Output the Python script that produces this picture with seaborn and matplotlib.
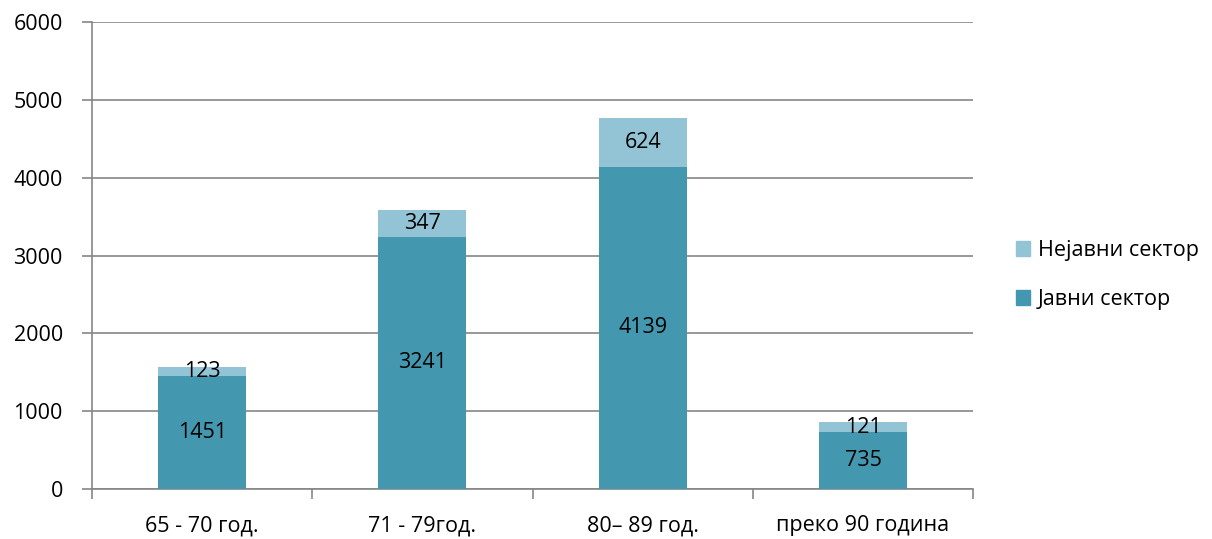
import pandas as pd
import seaborn as sns
import matplotlib.pyplot as plt
from matplotlib.patches import Patch

categories = ["65 - 70 год.", "71 - 79год.", "80– 89 год.", "преко 90 година"]
public = [1451, 3241, 4139, 735]
non_public = [123, 347, 624, 121]

dark = "#4398B0"
light = "#93C4D6"
grid_c = "#868686"

sns.set_style("white")
plt.rcParams['font.family'] = ['Open Sans', 'DejaVu Sans']
plt.rcParams['text.color'] = 'black'

df = pd.DataFrame({"cat": categories, "public": public, "non_public": non_public})
df["total"] = df["public"] + df["non_public"]

fig = plt.figure(figsize=(12.12, 5.39), dpi=100)
ax = fig.add_axes([0.0759, 0.0928, 0.727, 0.866])

# light bars = full stack height, dark bars on top cover the public part
sns.barplot(data=df, x="cat", y="total", color=light, width=0.4, saturation=1,
            linewidth=0, ax=ax, zorder=2)
sns.barplot(data=df, x="cat", y="public", color=dark, width=0.4, saturation=1,
            linewidth=0, ax=ax, zorder=3)

ax.set_ylim(0, 6000)
ax.set_xlim(-0.5, 3.5)
ax.set_yticks(range(0, 6001, 1000))
ax.yaxis.grid(True, color=grid_c, linewidth=1.2, zorder=0)
ax.set_axisbelow(True)
ax.set_xlabel("")
ax.set_ylabel("")

for s in ["top", "right"]:
    ax.spines[s].set_visible(False)
for s in ["left", "bottom"]:
    ax.spines[s].set_color(grid_c)
    ax.spines[s].set_linewidth(1.2)

ax.tick_params(axis="y", length=7, color=grid_c, width=1.2, labelsize=15.5, pad=14,
               left=True, labelcolor="black")
ax.tick_params(axis="x", length=0, labelsize=15.5, pad=19, labelcolor="black")
ax.set_xticks([-0.5, 0.5, 1.5, 2.5, 3.5], minor=True)
ax.tick_params(axis="x", which="minor", length=7, color=grid_c, width=1.2, bottom=True)

# value labels centred in each segment
n = len(categories)
dark_bars = ax.patches[n:]
for db, pv, nv in zip(dark_bars, public, non_public):
    xc = db.get_x() + db.get_width() / 2
    ax.text(xc, pv / 2, str(pv), ha="center", va="center", fontsize=15.5, color="black", zorder=5)
    ax.text(xc, pv + nv / 2, str(nv), ha="center", va="center", fontsize=15.5, color="black", zorder=5)

handles = [Patch(color=light, label="Нејавни сектор"), Patch(color=dark, label="Јавни сектор")]
fig.legend(handles=handles, loc="center left", bbox_to_anchor=(0.822, 0.49), frameon=False,
           fontsize=15.5, handlelength=0.65, handleheight=0.65, labelspacing=1.3, handletextpad=0.4)

fig.savefig("out.png", dpi=100)
